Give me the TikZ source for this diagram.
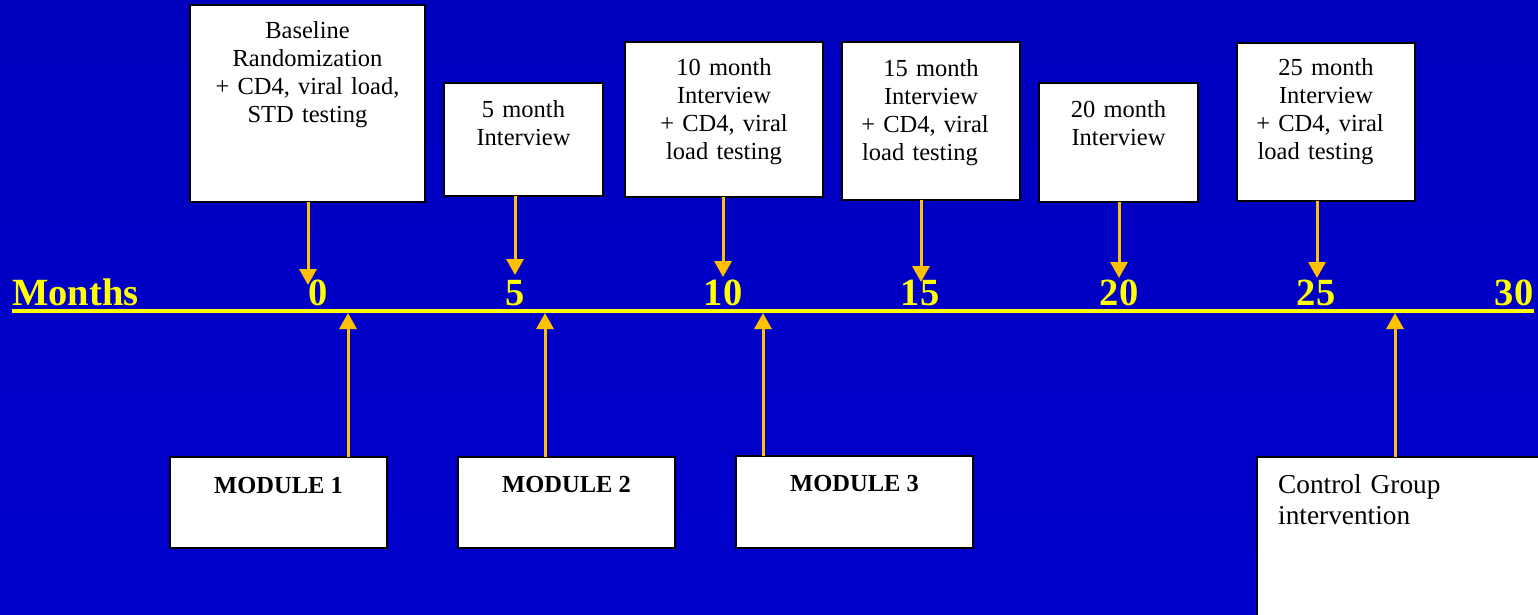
\documentclass[tikz,border=0pt]{standalone}
\usepackage{fontspec}
\setmainfont{Liberation Serif}
\usetikzlibrary{arrows.meta}
\definecolor{bgtop}{RGB}{0,0,190}
\definecolor{bgmid}{RGB}{0,0,232}
\definecolor{bgbot}{RGB}{0,0,205}
\definecolor{arrowc}{RGB}{255,192,0}
\definecolor{linec}{RGB}{255,255,0}
\tikzset{
  evbox/.style={draw=black, line width=1.5pt, fill=white, anchor=north west, inner sep=0pt, outer sep=0pt},
  boxtext/.style={anchor=base, inner sep=0pt, text width=220pt, align=center, font=\fontsize{24.5}{28.3}\selectfont},
  modtext/.style={anchor=base, inner sep=0pt, font=\bfseries\fontsize{24.5}{28}\selectfont},
  numtext/.style={anchor=base, inner sep=0pt, text=linec, font=\bfseries\fontsize{38.5}{40}\selectfont},
  evarrow/.style={draw=arrowc, line width=3pt, -{Triangle[width=17pt,length=16pt]}},
}
\begin{document}
\begin{tikzpicture}[x=1pt, y=-1pt]
\useasboundingbox (0,0) rectangle (1538,614);
\shade[top color=bgtop, middle color=bgmid, bottom color=bgbot] (0,0) rectangle (1538,614);

% top event boxes
\node[evbox, minimum width=235pt, minimum height=197pt] (b0) at (190,5) {};
\node[evbox, minimum width=159pt, minimum height=113pt] (b5) at (444,83) {};
\node[evbox, minimum width=198pt, minimum height=155pt] (b10) at (625,42) {};
\node[evbox, minimum width=178pt, minimum height=158pt] (b15) at (842,42) {};
\node[evbox, minimum width=159pt, minimum height=119pt] (b20) at (1039,83) {};
\node[evbox, minimum width=178pt, minimum height=158pt] (b25) at (1237,43) {};

\node[boxtext] (b0t) at (307.5,38) {Baseline\\Randomization\\+ CD4, viral load,\\STD testing};
\node[boxtext] (b5t) at (523.5,117) {5 month\\Interview};
\node[boxtext] (b10t) at (724,75) {10 month\\Interview\\+ CD4, viral\\load testing};
\node[boxtext] (b15t) at (931,76) {15 month\\Interview\\+ CD4, viral\kern12pt\\load testing\kern22pt};
\node[boxtext] (b20t) at (1118.5,117) {20 month\\Interview};
\node[boxtext] (b25t) at (1326,75) {25 month\\Interview\\+ CD4, viral\kern12pt\\load testing\kern21pt};

% bottom boxes
\node[evbox, minimum width=217pt, minimum height=91pt] (m1) at (170,457) {};
\node[evbox, minimum width=217pt, minimum height=91pt] (m2) at (458,457) {};
\node[evbox, minimum width=237pt, minimum height=92pt] (m3) at (736,456) {};
\node[evbox, minimum width=320pt, minimum height=200pt] (cg) at (1257,457) {};

\node[modtext] (m1t) at (278.5,493) {MODULE 1};
\node[modtext] (m2t) at (566.5,492) {MODULE 2};
\node[modtext] (m3t) at (854.5,491) {MODULE 3};
\node[anchor=base west, inner sep=0pt, text width=250pt, align=left,
      font=\fontsize{27.3}{31}\selectfont] (cgt) at (1278,493) {Control Group\\intervention};

% timeline
\coordinate (tl0) at (12,311);
\coordinate (tl1) at (1534,311);
\draw[linec, line width=3.5pt] (tl0) -- (tl1);
\node[numtext, anchor=base west] (months) at (12,305) {Months};
\node[numtext] (n0) at (318,305) {0};
\node[numtext] (n5) at (515,305) {5};
\node[numtext] (n10) at (723,305) {10};
\node[numtext] (n15) at (920,305) {15};
\node[numtext] (n20) at (1119,305) {20};
\node[numtext] (n25) at (1316,305) {25};
\node[numtext] (n30) at (1514,305) {30};

% top arrows
\coordinate (t0) at (308,285);
\coordinate (t5) at (515,275);
\coordinate (t10) at (723,277);
\coordinate (t15) at (921,282);
\coordinate (t20) at (1119,278);
\coordinate (t25) at (1317,278);
\draw[evarrow] (b0.south -| t0) -- (t0);
\draw[evarrow] (b5.south -| t5) -- (t5);
\draw[evarrow] (b10.south -| t10) -- (t10);
\draw[evarrow] (b15.south -| t15) -- (t15);
\draw[evarrow] (b20.south -| t20) -- (t20);
\draw[evarrow] (b25.south -| t25) -- (t25);

% bottom arrows
\coordinate (u1) at (348,313);
\coordinate (u2) at (545,313);
\coordinate (u3) at (763,313);
\coordinate (u4) at (1395,313);
\draw[evarrow] (m1.north -| u1) -- (u1);
\draw[evarrow] (m2.north -| u2) -- (u2);
\draw[evarrow] (m3.north -| u3) -- (u3);
\draw[evarrow] (cg.north -| u4) -- (u4);
\end{tikzpicture}
\end{document}
